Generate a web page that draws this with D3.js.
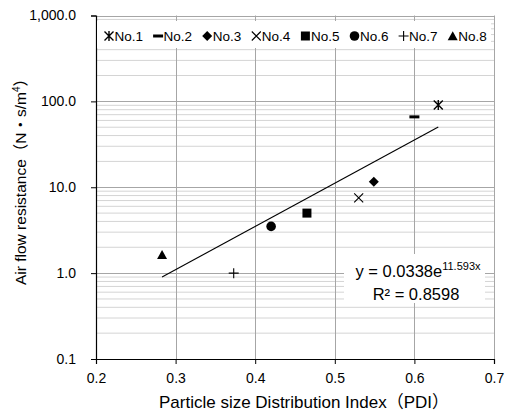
<!DOCTYPE html>
<html>
<head>
<meta charset="utf-8">
<script src="https://cdnjs.cloudflare.com/ajax/libs/d3/7.8.5/d3.min.js"></script>
<style>
  body { margin: 0; background: #fff; }
  svg { display: block; font-family: 'Liberation Sans', 'Noto Sans CJK JP', sans-serif; }
</style>
</head>
<body>
<svg class="chart" width="505" height="414"></svg>
<script>
// samples
const sampleNames = ['No.1', 'No.2', 'No.3', 'No.4', 'No.5', 'No.6', 'No.7', 'No.8'];
const sampleSymbols = ['asterisk', 'dash', 'diamond', 'cross', 'square', 'circle', 'plus', 'triangle'];
const pdiValues = [0.630, 0.600, 0.549, 0.530, 0.465, 0.420, 0.373, 0.283];
const resistanceValues = [91, 66, 11.6, 7.5, 5.0, 3.5, 1.0, 1.63];

// exponential trendline y = a * e^(b x)
const trendA = 0.0338;
const trendB = 11.593;
const trendR2 = 0.8598;

const xTicks = [0.2, 0.3, 0.4, 0.5, 0.6, 0.7];
const yTicks = [0.1, 1, 10, 100, 1000];

const svg = d3.select('.chart');
const x = d3.scaleLinear().domain([0.2, 0.7]).range([96, 494]);
const y = d3.scaleLog().domain([0.1, 1000]).range([359, 15.5]);

function symbolPath(type) {
  switch (type) {
    case 'asterisk': return 'M-4.5,-4.5L4.5,4.5M-4.5,4.5L4.5,-4.5M0,-5L0,5';
    case 'cross': return 'M-4.5,-4.5L4.5,4.5M-4.5,4.5L4.5,-4.5';
    case 'plus': return 'M-5,0L5,0M0,-5L0,5';
    case 'dash': return 'M-5,-1.5L5,-1.5L5,1.5L-5,1.5Z';
    case 'diamond': return 'M0,-5L5,0L0,5L-5,0Z';
    case 'square': return 'M-4.5,-4.5L4.5,-4.5L4.5,4.5L-4.5,4.5Z';
    case 'circle': return d3.symbol(d3.symbolCircle, Math.PI * 4.8 * 4.8)();
    case 'triangle': return 'M0,-4.8L5,4.2L-5,4.2Z';
  }
}
const openSymbols = ['asterisk', 'cross', 'plus'];

function drawMarker(sel, type) {
  const open = openSymbols.includes(type);
  sel.append('path')
    .attr('d', symbolPath(type))
    .attr('fill', open ? 'none' : '#000')
    .attr('stroke', open ? '#000' : 'none')
    .attr('stroke-width', type === 'asterisk' ? 1.4 : 1.1);
}

// gridlines
const grid = svg.append('g');
grid.selectAll('.minor')
  .data(y.ticks().filter(d => Math.abs(Math.log10(d) - Math.round(Math.log10(d))) > 1e-6))
  .enter().append('line')
  .attr('x1', x(0.2)).attr('x2', x(0.7))
  .attr('y1', d => y(d)).attr('y2', d => y(d))
  .attr('stroke', '#d4d4d4');
grid.selectAll('.major')
  .data(yTicks.slice(1))
  .enter().append('line')
  .attr('x1', x(0.2)).attr('x2', x(0.7))
  .attr('y1', d => Math.round(y(d)) + 0.5).attr('y2', d => Math.round(y(d)) + 0.5)
  .attr('stroke', '#a6a6a6');
grid.selectAll('.vert')
  .data(xTicks.slice(1))
  .enter().append('line')
  .attr('x1', d => Math.round(x(d)) + 0.5).attr('x2', d => Math.round(x(d)) + 0.5)
  .attr('y1', y(1000)).attr('y2', y(0.1))
  .attr('stroke', '#a6a6a6');

// axes
const xAxis = svg.append('g')
  .attr('transform', `translate(0, ${y(0.1)})`)
  .call(d3.axisBottom(x).tickValues(xTicks).tickFormat(d3.format('.1f')).tickSize(5).tickPadding(9));
const yAxis = svg.append('g')
  .attr('transform', `translate(${x(0.2)}, 0)`)
  .call(d3.axisLeft(y).tickValues(yTicks).tickFormat(d3.format(',.1f')).tickSize(5).tickPadding(15));
[xAxis, yAxis].forEach(a => {
  a.select('.domain').attr('stroke', '#000').attr('stroke-width', 1.2);
  a.selectAll('.tick line').attr('stroke', '#000');
  a.selectAll('.tick text').attr('fill', '#000').style('font-size', '14px')
    .style('font-family', "'Liberation Sans', sans-serif");
});

// trendline
const trendX = d3.extent(pdiValues);
svg.append('path')
  .datum(trendX)
  .attr('fill', 'none')
  .attr('stroke', '#000')
  .attr('stroke-width', 1.1)
  .attr('d', d3.line().x(d => x(d)).y(d => y(trendA * Math.exp(trendB * d))));

// points
svg.append('g')
  .selectAll('g')
  .data(sampleNames.map((n, i) => ({ name: n, symbol: sampleSymbols[i], pdi: pdiValues[i], r: resistanceValues[i] })))
  .enter().append('g')
  .attr('transform', d => `translate(${x(d.pdi)}, ${y(d.r)})`)
  .each(function (d) { drawMarker(d3.select(this), d.symbol); });

// legend
const legend = svg.append('g');
legend.append('rect')
  .attr('x', 97).attr('y', 21).attr('width', 394).attr('height', 27)
  .attr('fill', '#fff');
const legendItem = legend.selectAll('.item')
  .data(sampleNames)
  .enter().append('g')
  .attr('transform', (d, i) => `translate(${109 + i * 49.1}, 36)`);
legendItem.each(function (d, i) { drawMarker(d3.select(this), sampleSymbols[i]); });
legendItem.append('text')
  .attr('x', 5.5).attr('y', 5)
  .style('font-size', '13.5px')
  .text(d => d);

// trendline label
const eq = svg.append('g');
eq.append('rect')
  .attr('x', 344).attr('y', 254).attr('width', 141).attr('height', 49)
  .attr('fill', '#fff');
const eqText = eq.append('text')
  .attr('x', 418).attr('y', 277)
  .attr('text-anchor', 'middle')
  .style('font-size', '16.5px');
eqText.append('tspan').text(`y = ${trendA}e`);
eqText.append('tspan').attr('dy', -7).style('font-size', '11px').text(`${trendB}x`);
eq.append('text')
  .attr('x', 416).attr('y', 300)
  .attr('text-anchor', 'middle')
  .style('font-size', '16.5px')
  .text(`R² = ${trendR2}`);

// axis titles
svg.append('text')
  .attr('x', 304).attr('y', 408)
  .attr('text-anchor', 'middle')
  .style('font-size', '17px')
  .text('Particle size Distribution Index（PDI）');
const yTitle = svg.append('text')
  .attr('transform', 'translate(26, 178) rotate(-90)')
  .attr('text-anchor', 'middle')
  .style('font-size', '15.5px');
yTitle.append('tspan').text('Air flow resistance（N・s/m');
yTitle.append('tspan').attr('dy', -6).style('font-size', '10px').text('4');
yTitle.append('tspan').attr('dy', 6).text('）');
</script>
</body>
</html>
